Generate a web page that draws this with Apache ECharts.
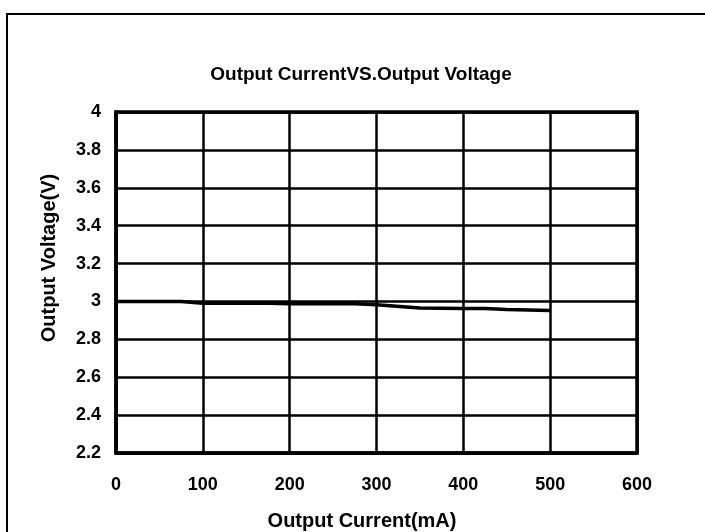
<!DOCTYPE html>
<html>
<head>
<meta charset="utf-8">
<script src="https://cdn.jsdelivr.net/npm/echarts@6/dist/echarts.min.js"></script>
<style>
html,body{margin:0;padding:0;background:#fff;}
#chart{width:705px;height:532px;}
</style>
</head>
<body>
<div id="chart"></div>
<script>
var titleText = 'Output CurrentVS.Output Voltage';
var xName = 'Output Current(mA)';
var yName = 'Output Voltage(V)';
var currents = [0, 75, 100, 175, 200, 275, 300, 350, 400, 425, 450, 500];
var voltages = [3.0, 3.0, 2.99, 2.99, 2.988, 2.988, 2.982, 2.965, 2.963, 2.963, 2.958, 2.952];

var FONT = '"Liberation Sans", Arial, sans-serif';
var data = currents.map(function (c, i) { return [c, voltages[i]]; });

var chart = echarts.init(document.getElementById('chart'), null, {renderer: 'canvas'});
chart.setOption({
  animation: false,
  backgroundColor: '#fff',
  grid: {left: 116, right: 68, top: 112, bottom: 79, show: true, borderColor: '#000', borderWidth: 3.5, backgroundColor: 'transparent'},
  xAxis: {
    type: 'value', min: 0, max: 600, interval: 100,
    axisLine: {show: true, lineStyle: {color: '#000', width: 3.5}},
    axisTick: {show: false},
    splitLine: {show: true, lineStyle: {color: '#000', width: 2.5}},
    axisLabel: {color: '#000', fontSize: 18, fontWeight: 'bold', fontFamily: FONT, margin: 23}
  },
  yAxis: {
    type: 'value', min: 2.2, max: 4, interval: 0.2,
    axisLine: {show: true, lineStyle: {color: '#000', width: 3.5}},
    axisTick: {show: false},
    splitLine: {show: true, lineStyle: {color: '#000', width: 2.5}},
    axisLabel: {color: '#000', fontSize: 18, fontWeight: 'bold', fontFamily: FONT, margin: 15,
      formatter: function (v) { return String(Math.round(v * 10) / 10); }}
  },
  series: [{
    type: 'line', data: data, showSymbol: false, symbol: 'none',
    lineStyle: {color: '#000', width: 3.5}, z: 5
  }],
  graphic: [
    {type: 'rect', shape: {x: 7, y: 14, width: 720, height: 540}, style: {fill: 'none', stroke: '#000', lineWidth: 2}, silent: true},
    {type: 'text', x: 361, y: 75, style: {text: titleText, font: 'bold 19px ' + FONT, fill: '#000', textAlign: 'center', textVerticalAlign: 'middle'}},
    {type: 'text', x: 362, y: 521, style: {text: xName, font: 'bold 20px ' + FONT, fill: '#000', textAlign: 'center', textVerticalAlign: 'middle'}},
    {type: 'text', x: 49, y: 258, rotation: Math.PI / 2, style: {text: yName, font: 'bold 20px ' + FONT, fill: '#000', textAlign: 'center', textVerticalAlign: 'middle'}}
  ]
});
</script>
</body>
</html>
